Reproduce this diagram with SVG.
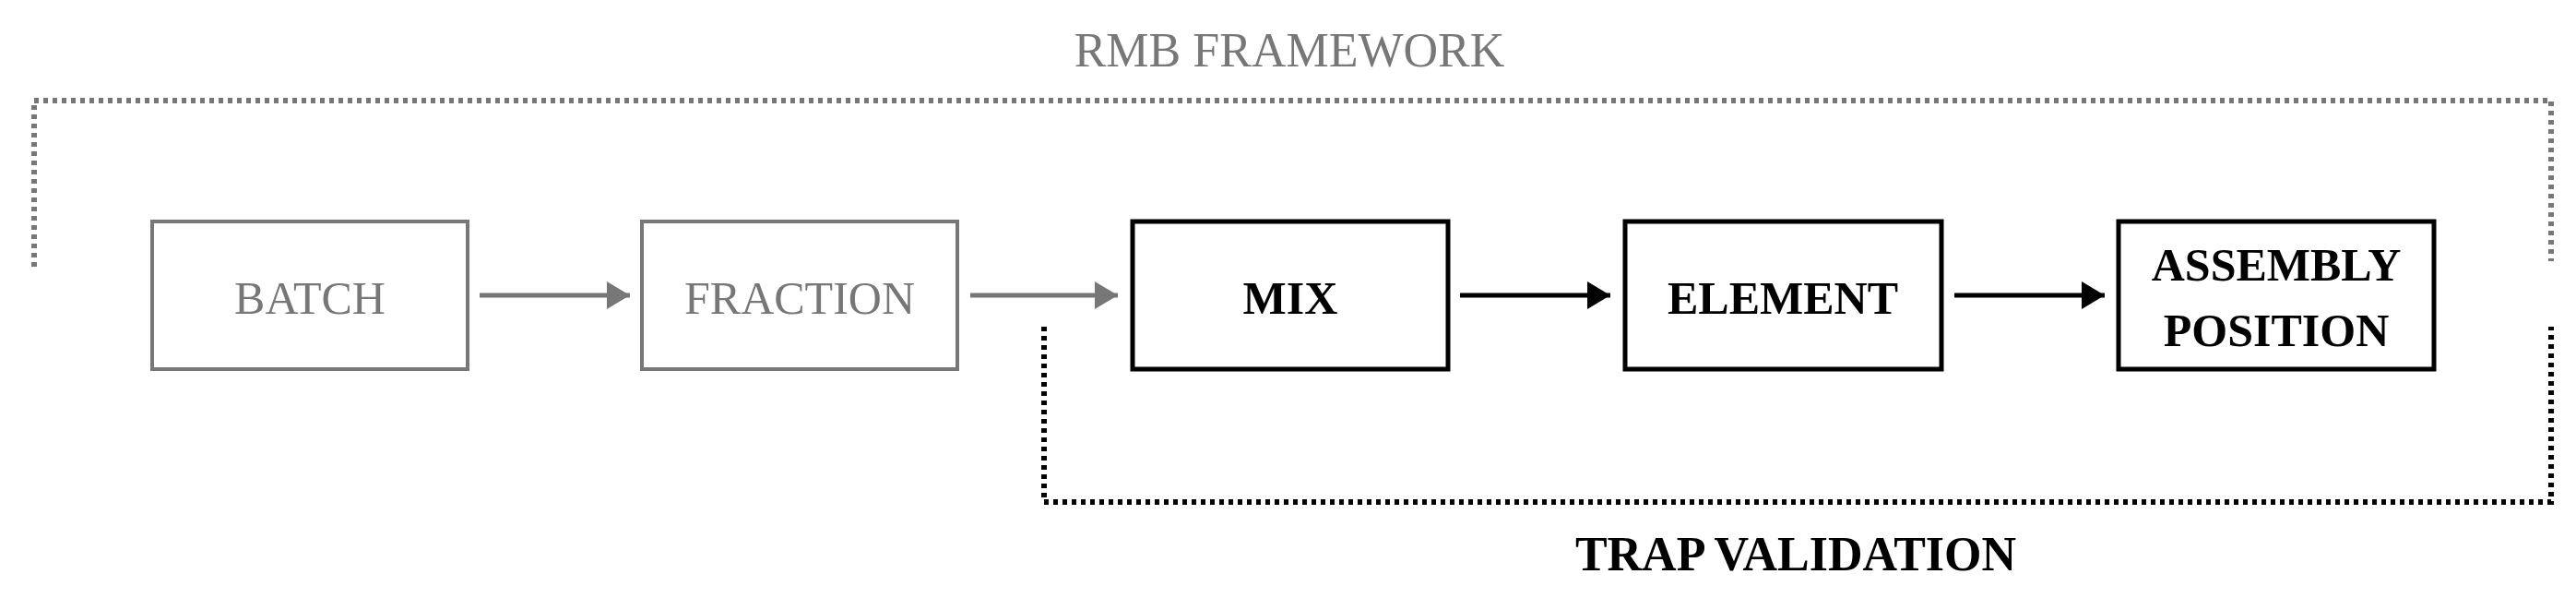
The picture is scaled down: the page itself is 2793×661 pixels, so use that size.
<svg xmlns="http://www.w3.org/2000/svg" width="2793" height="661" viewBox="0 0 2793 661">
<style>
.g rect{fill:#fff;stroke:#777;stroke-width:4}
.b rect{fill:#fff;stroke:#000;stroke-width:5}
text{font-family:"Liberation Serif","DejaVu Serif",serif;text-anchor:middle;font-size:50px}
.g text{fill:#777}
.b text{fill:#000;font-weight:bold}
.dg{fill:none;stroke:#777;stroke-width:6;stroke-dasharray:5 5}
.db{fill:none;stroke:#000;stroke-width:6;stroke-dasharray:5 5}
.ag{stroke:#777;stroke-width:5;marker-end:url(#mg)}
.ab{stroke:#000;stroke-width:5;marker-end:url(#mb)}
</style>
<defs>
<marker id="mg" markerWidth="6" markerHeight="6" refX="5" refY="3" orient="auto" markerUnits="strokeWidth"><path d="M0,0L5,3L0,6z" fill="#777"/></marker>
<marker id="mb" markerWidth="6" markerHeight="6" refX="5" refY="3" orient="auto" markerUnits="strokeWidth"><path d="M0,0L5,3L0,6z" fill="#000"/></marker>
</defs>
<g id="frame-rmb"><path class="dg" d="M37,289V109H2766V283"/><text x="1398" y="72" fill="#777" style="font-size:52px">RMB FRAMEWORK</text></g>
<g id="frame-trap"><path class="db" d="M1132,354V544H2766V354"/><text x="1947" y="618" style="font-weight:bold;font-size:52px">TRAP VALIDATION</text></g>
<g id="connectors">
<line class="ag" x1="520" y1="320" x2="683" y2="320"/>
<line class="ag" x1="1052" y1="320" x2="1212" y2="320"/>
<line class="ab" x1="1583" y1="320" x2="1746" y2="320"/>
<line class="ab" x1="2119" y1="320" x2="2282" y2="320"/>
</g>
<g id="batch" class="g"><rect x="165" y="240" width="342" height="160"/><text x="336" y="340">BATCH</text></g>
<g id="fraction" class="g"><rect x="696" y="240" width="342" height="160"/><text x="867" y="340">FRACTION</text></g>
<g id="mix" class="b"><rect x="1228" y="240" width="342" height="160"/><text x="1399" y="340">MIX</text></g>
<g id="element" class="b"><rect x="1762" y="240" width="343" height="160"/><text x="1933" y="340">ELEMENT</text></g>
<g id="assembly" class="b"><rect x="2297" y="240" width="342" height="160"/><text x="2468" y="304">ASSEMBLY</text><text x="2468" y="375">POSITION</text></g>
</svg>
